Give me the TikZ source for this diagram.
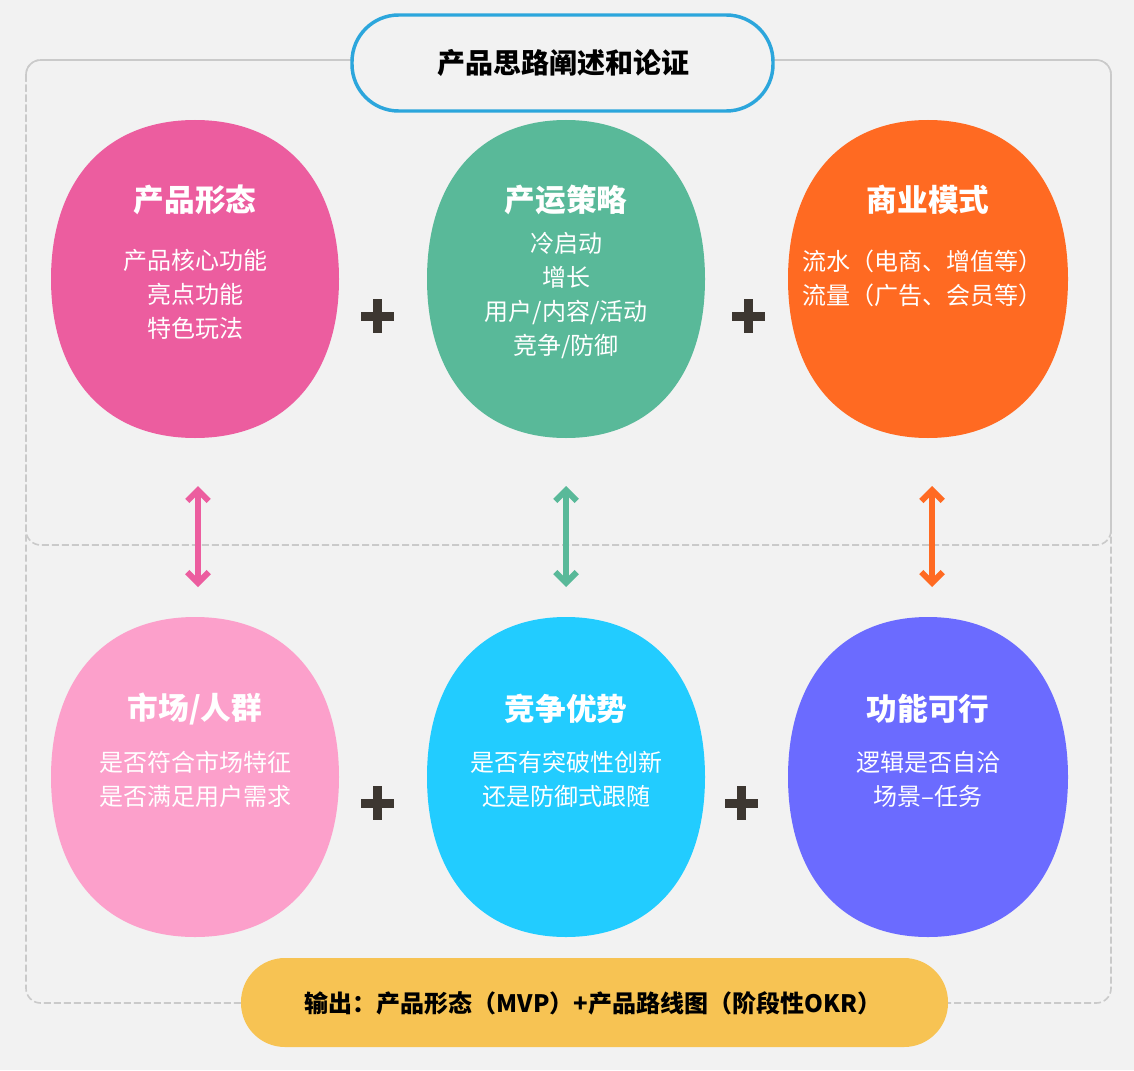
\documentclass[tikz,border=0pt]{standalone}
\usepackage{fontspec}
\setmainfont{Noto Sans CJK SC}
\usetikzlibrary{arrows.meta}

\definecolor{bgGray}{HTML}{F2F2F2}
\definecolor{dashGray}{HTML}{CACACA}
\definecolor{pillBlue}{HTML}{2CA6DC}
\definecolor{formPink}{HTML}{EC5D9F}
\definecolor{opsGreen}{HTML}{59B999}
\definecolor{bizOrange}{HTML}{FF6A22}
\definecolor{mktPink}{HTML}{FCA0CB}
\definecolor{advCyan}{HTML}{22CCFF}
\definecolor{funcPurple}{HTML}{6B6BFF}
\definecolor{outYellow}{HTML}{F7C353}
\definecolor{plusDark}{HTML}{3D3731}

\tikzset{
  dashbox/.style={draw=dashGray, line width=1.2pt, dash pattern=on 5.25pt off 2.25pt, rounded corners=11pt},
  bubtitle/.style={text=white, inner sep=0.75pt, font=\bfseries\fontsize{23pt}{28pt}\selectfont},
  bubtext/.style={text=white, inner sep=0.75pt, align=center, font=\fontsize{18pt}{25.5pt}\selectfont},
  plussign/.style={draw=plusDark, line width=6.75pt},
  linkarrow/.style={line width=4.5pt, {Straight Barb[length=8pt,width=16pt]}-{Straight Barb[length=8pt,width=16pt]}}
}

\begin{document}
\begin{tikzpicture}[x=0.75pt,y=0.75pt,yscale=-1,xscale=1]
%set diagram size to the whole canvas
\fill [bgGray] (0,0) rectangle (1134,1070);
\useasboundingbox (0,0) rectangle (1134,1070);

%Shape: Rectangle dashed, outer frame
\draw [dashbox] (26,60) rectangle (1111,1003);
%Shape: Rectangle dashed, upper frame
\draw [dashbox] (26,60) rectangle (1111,545);
%Shape: Rounded Rect, title pill
\draw [draw=pillBlue, fill=bgGray, line width=2.6pt, rounded corners=35pt] (352,15) rectangle (773,111);

%Shape: Polygon Curved, product form
\fill [formPink] (195,120) .. controls (284.3,120) and (339,180.4) .. (339,279) .. controls (339,377.6) and (284.3,438) .. (195,438) .. controls (105.7,438) and (51,377.6) .. (51,279) .. controls (51,180.4) and (105.7,120) .. (195,120) -- cycle ;
%Shape: Polygon Curved, operation strategy
\fill [opsGreen] (566,120) .. controls (652.2,120) and (705,180.4) .. (705,279) .. controls (705,377.6) and (652.2,438) .. (566,438) .. controls (479.8,438) and (427,377.6) .. (427,279) .. controls (427,180.4) and (479.8,120) .. (566,120) -- cycle ;
%Shape: Polygon Curved, business model
\fill [bizOrange] (928,120) .. controls (1014.8,120) and (1068,180.4) .. (1068,279) .. controls (1068,377.6) and (1014.8,438) .. (928,438) .. controls (841.2,438) and (788,377.6) .. (788,279) .. controls (788,180.4) and (841.2,120) .. (928,120) -- cycle ;
%Shape: Polygon Curved, market
\fill [mktPink] (195,617) .. controls (284.3,617) and (339,677.8) .. (339,777) .. controls (339,876.2) and (284.3,937) .. (195,937) .. controls (105.7,937) and (51,876.2) .. (51,777) .. controls (51,677.8) and (105.7,617) .. (195,617) -- cycle ;
%Shape: Polygon Curved, advantage
\fill [advCyan] (566,617) .. controls (652.2,617) and (705,677.8) .. (705,777) .. controls (705,876.2) and (652.2,937) .. (566,937) .. controls (479.8,937) and (427,876.2) .. (427,777) .. controls (427,677.8) and (479.8,617) .. (566,617) -- cycle ;
%Shape: Polygon Curved, feasibility
\fill [funcPurple] (928,617) .. controls (1014.8,617) and (1068,677.8) .. (1068,777) .. controls (1068,876.2) and (1014.8,937) .. (928,937) .. controls (841.2,937) and (788,876.2) .. (788,777) .. controls (788,677.8) and (841.2,617) .. (928,617) -- cycle ;

%Shape: Plus signs
\draw [plussign] (361,316) -- (394,316) (377.5,299) -- (377.5,333) ;
\draw [plussign] (732,316) -- (765,316) (748.5,299) -- (748.5,333) ;
\draw [plussign] (361,803) -- (394,803) (377.5,786) -- (377.5,820) ;
\draw [plussign] (725,803) -- (758,803) (741.5,786) -- (741.5,820) ;

%Arrow ends
\coordinate (formUp) at (198,486);
\coordinate (formDown) at (198,587);
\coordinate (opsUp) at (566,486);
\coordinate (opsDown) at (566,587);
\coordinate (bizUp) at (932,486);
\coordinate (bizDown) at (932,587);
%Straight Lines [double arrow]
\draw [linkarrow, formPink] (formUp) -- (formDown) ;
\draw [linkarrow, opsGreen] (opsUp) -- (opsDown) ;
\draw [linkarrow, bizOrange] (bizUp) -- (bizDown) ;

%Shape: Rounded Rect, output bar
\fill [outYellow, rounded corners=33pt] (241,958) rectangle (948,1047);

% Text Node
\node [inner sep=0.75pt, font=\bfseries\fontsize{21pt}{25pt}\selectfont] (title) at (563,63) {产品思路阐述和论证};
% Text Node
\node [bubtitle] (formHead) at (195,200) {产品形态};
\node [bubtext] (formBody) at (195,294) {产品核心功能\\亮点功能\\特色玩法};
% Text Node
\node [bubtitle] (opsHead) at (566,200) {产运策略};
\node [bubtext] (opsBody) at (566,296) {冷启动\\增长\\用户/内容/活动\\竞争/防御};
% Text Node
\node [bubtitle] (bizHead) at (928,200) {商业模式};
\node [bubtext] (bizBody) at (922,278) {流水（电商、增值等）\\流量（广告、会员等）};
% Text Node
\node [bubtitle] (mktHead) at (195,709) {市场/人群};
\node [bubtext] (mktBody) at (195,779) {是否符合市场特征\\是否满足用户需求};
% Text Node
\node [bubtitle] (advHead) at (566,709) {竞争优势};
\node [bubtext] (advBody) at (566,779) {是否有突破性创新\\还是防御式跟随};
% Text Node
\node [bubtitle] (funcHead) at (928,709) {功能可行};
\node [bubtext] (funcBody) at (928,779) {逻辑是否自洽\\场景–任务};
% Text Node
\node [inner sep=0.75pt, font=\bfseries\fontsize{18pt}{22pt}\selectfont] (output) at (593,1003) {输出：产品形态（MVP）+产品路线图（阶段性OKR）};

\end{tikzpicture}
\end{document}
